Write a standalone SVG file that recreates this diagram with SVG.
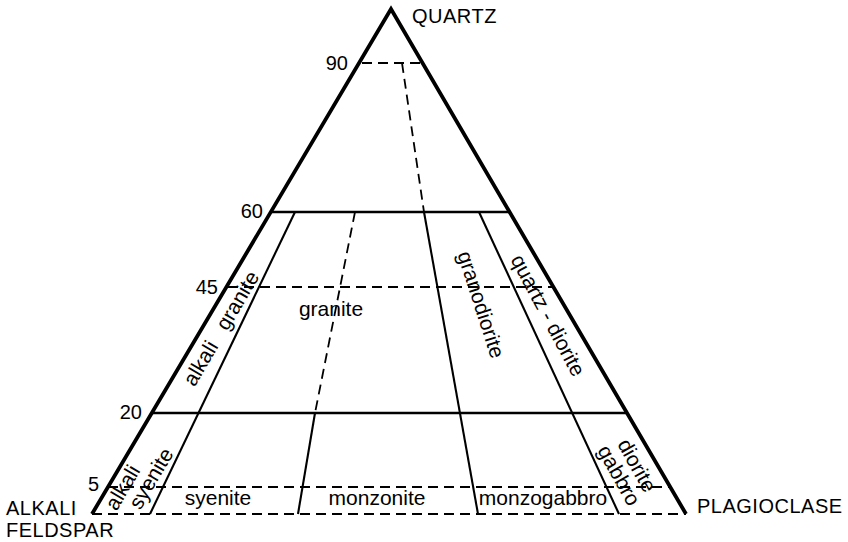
<svg xmlns="http://www.w3.org/2000/svg" width="848" height="542" viewBox="0 0 848 542">
<style>
text { font-family: "Liberation Sans", Arial, sans-serif; fill: #000; }
.cap { font-size: 20px; letter-spacing: 0.5px; }
.num { font-size: 20px; text-anchor: end; }
.rock { font-size: 21px; text-anchor: middle; }
.edge { fill: none; stroke: #000; stroke-width: 3.8; stroke-linejoin: miter; stroke-miterlimit: 10; }
.bold { stroke: #000; stroke-width: 2.6; fill: none; }
.thin { stroke: #000; stroke-width: 2.1; fill: none; }
.dash { stroke: #000; stroke-width: 1.8; fill: none; stroke-dasharray: 10 6; }
</style>
<rect width="848" height="542" fill="#fff"/>
<g id="connectors">
  <polyline class="edge" points="92,514 391,9 686,514"/>
  <line class="dash" x1="92" y1="514" x2="686" y2="514"/>
  <line class="dash" x1="362" y1="63" x2="421" y2="63"/>
  <line class="bold" x1="272" y1="212" x2="509" y2="212"/>
  <line class="dash" x1="228" y1="287" x2="553" y2="287"/>
  <line class="bold" x1="152" y1="413" x2="627" y2="413"/>
  <line class="dash" x1="108" y1="487" x2="670" y2="487"/>
  <line class="thin" x1="295" y1="212" x2="150" y2="514"/>
  <line class="dash" x1="355" y1="212" x2="315" y2="413"/>
  <line class="thin" x1="315" y1="413" x2="298" y2="514"/>
  <line class="dash" x1="402" y1="63" x2="424" y2="212"/>
  <line class="thin" x1="424" y1="212" x2="478" y2="514"/>
  <line class="thin" x1="479" y1="212" x2="619" y2="514"/>
</g>
<g id="corner-quartz"><text class="cap" x="412" y="23">QUARTZ</text></g>
<g id="corner-alkali"><text class="cap" x="6" y="515">ALKALI</text><text class="cap" x="6" y="537">FELDSPAR</text></g>
<g id="corner-plagioclase"><text class="cap" x="697" y="513">PLAGIOCLASE</text></g>
<g id="scale">
  <text class="num" x="348" y="70">90</text>
  <text class="num" x="263" y="218">60</text>
  <text class="num" x="218" y="294">45</text>
  <text class="num" x="142" y="419">20</text>
  <text class="num" x="99" y="491">5</text>
</g>
<g id="alkali-granite"><text class="rock" transform="translate(222,329) rotate(-59.5)" y="6" word-spacing="11">alkali granite</text></g>
<g id="granite"><text class="rock" x="331" y="316">granite</text></g>
<g id="granodiorite"><text class="rock" transform="translate(480,305) rotate(72)" y="6">granodiorite</text></g>
<g id="quartz-diorite"><text class="rock" transform="translate(547,316) rotate(62)" y="6">quartz - diorite</text></g>
<g id="alkali-syenite">
  <text class="rock" transform="translate(123.5,488) rotate(-59.5)" y="6">alkali</text>
  <text class="rock" transform="translate(152,479) rotate(-59.5)" y="6">syenite</text>
</g>
<g id="diorite-gabbro">
  <text class="rock" transform="translate(636,466) rotate(61)" y="6">diorite</text>
  <text class="rock" transform="translate(618,476) rotate(61)" y="6">gabbro</text>
</g>
<g id="syenite"><text class="rock" x="218" y="505">syenite</text></g>
<g id="monzonite"><text class="rock" x="377" y="505">monzonite</text></g>
<g id="monzogabbro"><text class="rock" x="543" y="505">monzogabbro</text></g>
</svg>
